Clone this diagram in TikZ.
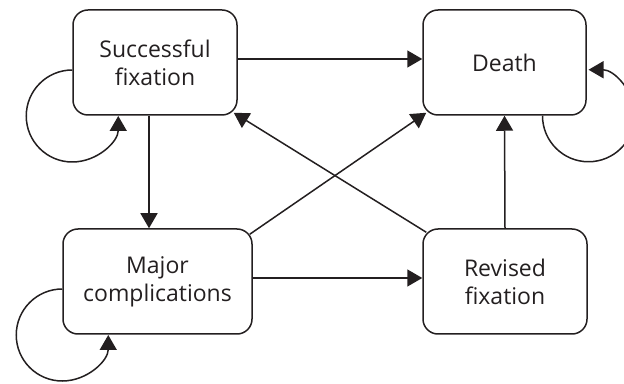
\documentclass[tikz,border=0pt]{standalone}
\usepackage{fontspec}
\setmainfont{Open Sans}
\usetikzlibrary{arrows.meta}
\definecolor{ink}{HTML}{231F20}

\begin{document}
\begin{tikzpicture}[x=1pt,y=1pt,line width=1.5pt,color=ink,
    state/.style={draw, rounded corners=15pt, minimum height=105pt, align=center,
      inner sep=0pt, font=\fontsize{23}{28}\selectfont},
    tip/.style={-{Triangle[length=15pt,width=17pt]}}]
        \useasboundingbox (0,0) rectangle (624,383);
        \clip (0,0) rectangle (624,383);

        % States
        \node[state, minimum width=164pt] (sf) at (155,320.5) {Successful\\fixation};
        \node[state, minimum width=163pt] (death) at (504.5,320.5) {Death};
        \node[state, minimum width=189pt] (mc) at (157.5,101.5) {Major\\complications};
        \node[state, minimum width=164pt] (rf) at (505,101.5) {Revised\\fixation};

        % Transitions
        \draw[tip] ([yshift=3.5pt]sf.east) -- ([yshift=3.5pt]death.west);
        \draw[tip] ([xshift=-6pt]sf.south) -- ([xshift=-6pt]sf.south |- mc.north);
        \draw[tip] ([yshift=3.5pt]mc.east) -- ([yshift=3.5pt]mc.east -| rf.west);
        \draw[tip] (rf.north) -- (death.south);
        \draw[tip] ([shift={(-3pt,-6pt)}]mc.north east) -- ([shift={(4pt,3pt)}]death.south west);
        \draw[tip] ([shift={(4pt,-4pt)}]rf.north west) -- ([shift={(-4pt,3pt)}]sf.south east);

        % Self loops
        \draw[tip] ([yshift=-7.5pt]sf.west) arc[start angle=90, end angle=360, radius=46pt];
        \draw[tip] ([yshift=-7.5pt]mc.west) arc[start angle=90, end angle=360, radius=46pt];
        \draw[tip] ([xshift=38pt]death.south) arc[start angle=180, end angle=450, radius=46pt];
\end{tikzpicture}
\end{document}
